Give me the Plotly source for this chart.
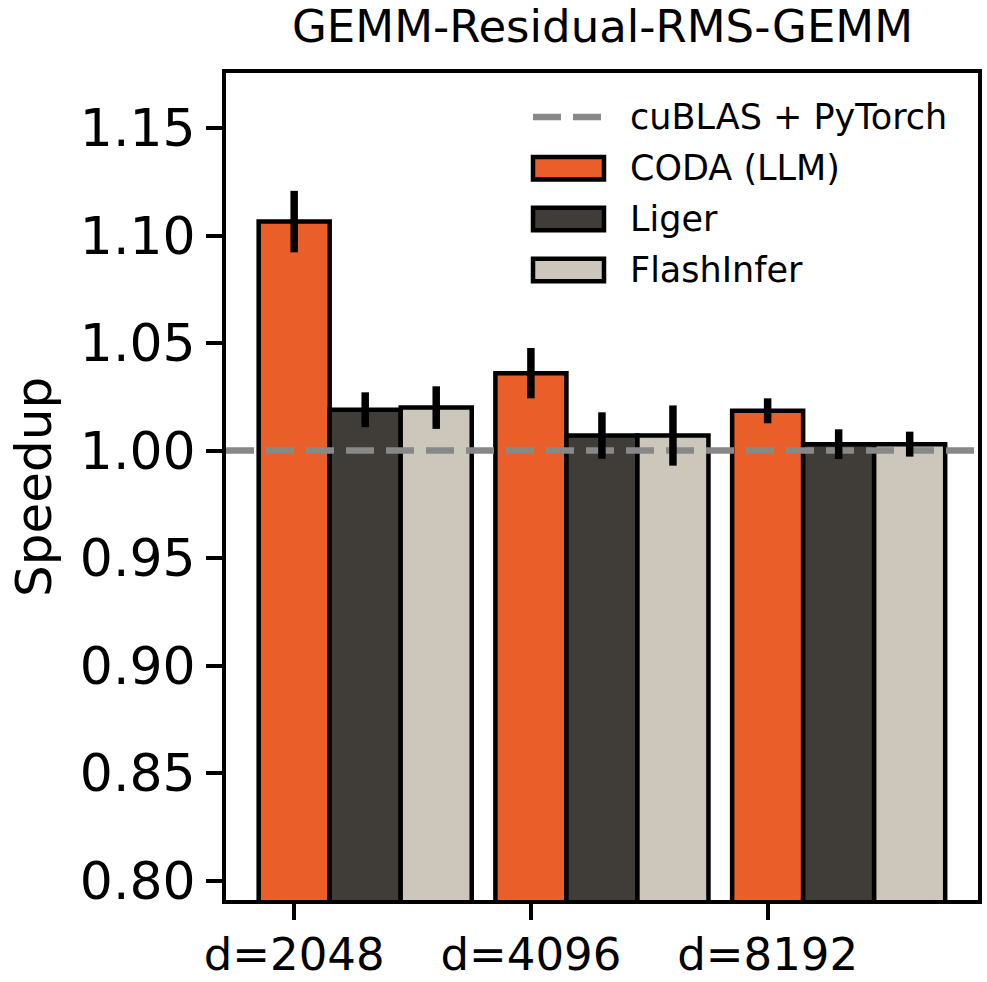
import plotly.graph_objects as go

# ---------------- data ----------------
groups = ["d=2048", "d=4096", "d=8192"]
series = ["CODA (LLM)", "Liger", "FlashInfer"]
coda = [1.1065, 1.036, 1.0185]
coda_err = [0.0143, 0.0117, 0.0058]
liger = [1.019, 1.007, 1.003]
liger_err = [0.0081, 0.0108, 0.0069]
flash = [1.020, 1.007, 1.003]
flash_err = [0.0099, 0.014, 0.0058]
baseline_value = 1.0
baseline_name = "cuBLAS + PyTorch"
title_text = "GEMM-Residual-RMS-GEMM"
ylabel = "Speedup"
yticks = [0.80, 0.85, 0.90, 0.95, 1.00, 1.05, 1.10, 1.15]

# ---------------- style ----------------
colors = ["#EA5E29", "#403C37", "#CCC6BB"]
BAR_W = 0.3
FONT = "DejaVu Sans"
W, H = 987, 982
L, R, T, B = 226, 9, 73, 82
PW, PH = W - L - R, H - T - B
XR = [-0.288, 2.8886]
YR = [0.791, 1.1756]

vals = [coda, liger, flash]
errs = [coda_err, liger_err, flash_err]
gx = list(range(len(groups)))

fig = go.Figure()
for k, (name, v, c) in enumerate(zip(series, vals, colors)):
    fig.add_trace(go.Bar(
        x=[g + k * BAR_W for g in gx], y=v, width=BAR_W, name=name,
        marker=dict(color=c, line=dict(color="black", width=4.5)),
        showlegend=False,
    ))

# baseline (above bars, below error bars)
fig.add_trace(go.Scatter(
    x=XR, y=[baseline_value, baseline_value], mode="lines", name=baseline_name,
    line=dict(color="#888888", width=6.5, dash="28px,12px"), showlegend=False,
    hoverinfo="skip", cliponaxis=True,
))

for k, (v, e) in enumerate(zip(vals, errs)):
    fig.add_trace(go.Scatter(
        x=[g + k * BAR_W for g in gx], y=v, mode="markers",
        marker=dict(size=1, opacity=0),
        error_y=dict(type="data", array=e, visible=True, color="black",
                     thickness=7.5, width=0),
        showlegend=False, hoverinfo="skip",
    ))

def px2x(px):
    return (px - L) / PW

def px2y(py):
    return 1 - (py - T) / PH

shapes = []
annotations = []
# legend (custom, matplotlib-like)
rows = [117, 168.3, 219, 270]
shapes.append(dict(type="line", xref="paper", yref="paper",
                   x0=px2x(533), x1=px2x(601), y0=px2y(rows[0]), y1=px2y(rows[0]),
                   line=dict(color="#888888", width=6.5, dash="28px,12px")))
for k, c in enumerate(colors):
    yc = rows[k + 1]
    shapes.append(dict(type="rect", xref="paper", yref="paper",
                       x0=px2x(533), x1=px2x(604), y0=px2y(yc - 11.3), y1=px2y(yc + 11.3),
                       fillcolor=c, line=dict(color="black", width=4.5)))
for name, yc in zip([baseline_name] + series, rows):
    annotations.append(dict(text=name, xref="paper", yref="paper", x=px2x(628), y=px2y(yc),
                            xanchor="left", yanchor="middle", showarrow=False,
                            font=dict(family=FONT, size=35, color="black")))

annotations.append(dict(text=ylabel, xref="paper", yref="paper", x=px2x(34), y=px2y(487),
                        xanchor="center", yanchor="middle", textangle=-90, showarrow=False,
                        font=dict(family=FONT, size=50, color="black")))
annotations.append(dict(text=title_text, xref="paper", yref="paper", x=0.5, y=px2y(27),
                        xanchor="center", yanchor="middle", showarrow=False,
                        font=dict(family=FONT, size=45, color="black")))

fig.update_layout(
    width=W, height=H, margin=dict(l=L, r=R, t=T, b=B, autoexpand=False),
    plot_bgcolor="white", paper_bgcolor="white", barmode="overlay",
    font=dict(family=FONT, color="black"),
    shapes=shapes, annotations=annotations,
)
fig.update_xaxes(
    range=XR, tickmode="array", tickvals=gx, ticktext=groups,
    showline=True, linecolor="black", linewidth=4, mirror=True,
    ticks="outside", ticklen=16, tickwidth=4, tickcolor="black",
    tickfont=dict(family=FONT, size=45, color="black"), ticklabelstandoff=-4,
    showgrid=False, zeroline=False,
)
fig.update_yaxes(
    range=YR, tickmode="array", tickvals=yticks, ticktext=[f"{t:.2f}" for t in yticks],
    showline=True, linecolor="black", linewidth=4, mirror=True,
    ticks="outside", ticklen=16, tickwidth=4, tickcolor="black",
    tickfont=dict(family=FONT, size=52, color="black"),
    showgrid=False, zeroline=False,
)

fig.write_html("out.html")
